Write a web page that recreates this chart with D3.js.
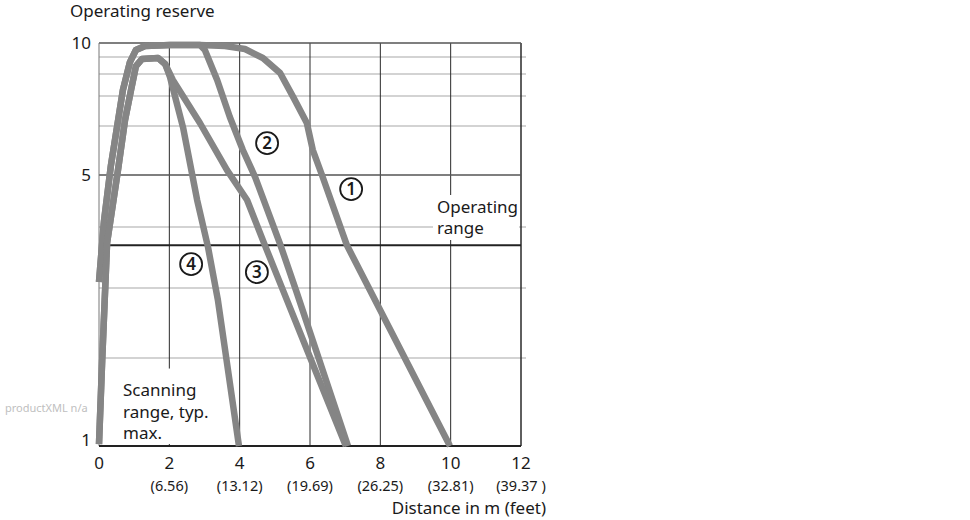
<!DOCTYPE html>
<html lang="en">
<head>
<meta charset="UTF-8">
<script src="https://d3js.org/d3.v7.min.js"></script>
<title>Operating reserve</title>
<style>
  body { margin: 0; background: #fff; }
  text { font-family: "Noto Sans", "Open Sans", sans-serif; fill: #1a1a1a; }
</style>
</head>
<body>
<div id="chart"></div>
<script>

// tick labels
var xTicks = [0, 2, 4, 6, 8, 10, 12];
var feetLabels = ["", "(6.56)", "(13.12)", "(19.69)", "(26.25)", "(32.81)", "(39.37 )"];
var yTicks = [1, 5, 10];
var yGridLight = [2, 3, 4, 6, 7, 8, 9];
var operatingRange = 3.7;

// curves, [distance m, operating reserve]
var curve1 = [[0,3.1],[0.14,4.1],[0.34,5.2],[0.68,7.27],[0.88,8.7],[1.05,9.5],[1.31,9.79],[2.02,9.86],[2.87,9.86],
  [3.58,9.79],[4.15,9.57],[4.66,8.94],[5.15,8.06],[5.52,6.97],[5.91,6.1],[6.08,5.51],[6.34,5.0],[7.05,3.7],[9.98,1.0]];
var curve2 = [[0,3.1],[0.14,4.1],[0.34,5.2],[0.68,7.27],[0.88,8.7],[1.05,9.5],[1.31,9.79],[2.02,9.86],[2.87,9.86],
  [3.01,9.5],[3.36,7.73],[3.72,6.3],[4.09,5.51],[4.44,4.96],[5.15,3.72],[5.60,2.97],[7.08,1.0]];
var curve3 = [[0,1.02],[0.09,1.97],[0.23,3.74],[0.54,5.1],[0.74,6.2],[0.91,7.27],[1.05,8.47],[1.22,8.88],[1.68,8.94],
  [1.88,8.59],[2.10,7.73],[2.87,6.1],[3.64,5.1],[4.21,4.52],[4.69,3.74],[5.23,2.97],[6.00,2.01],[7.02,1.0]];
var curve4 = [[0,1.02],[0.09,1.97],[0.23,3.74],[0.54,5.1],[0.74,6.2],[0.91,7.27],[1.05,8.47],[1.22,8.88],[1.68,8.94],
  [1.88,8.59],[2.02,7.86],[2.39,5.97],[2.79,4.52],[3.10,3.67],[3.38,2.83],[3.98,1.0]];
var curves = [curve1, curve2, curve3, curve4];

// circled curve labels
var labelNames = ["1", "2", "3", "4"];
var labelPos = [[7.17, 4.73], [4.78, 5.65], [4.49, 3.26], [2.62, 3.39]];

var width = 970, height = 520;

var svg = d3.select("#chart")
  .append("svg")
    .attr("width", width)
    .attr("height", height);

var x = d3.scaleLinear()
  .domain([0, 12])
  .range([99, 521]);

// the printed reserve axis is not a plain log scale, so piecewise
var y = d3.scaleLinear()
  .domain([1, 2, 3, 4, 5, 6, 7, 8, 9, 10])
  .range([446, 358, 288, 227, 175, 126, 96, 74, 57, 43]);

// light horizontal grid
svg.append("g")
  .selectAll("line")
  .data(yGridLight)
  .enter()
  .append("line")
    .attr("x1", x(0))
    .attr("x2", x(12) + 5)
    .attr("y1", function(d) { return y(d); })
    .attr("y2", function(d) { return y(d); })
    .attr("stroke", "#c4c4c4")
    .attr("stroke-width", 1.5);

// vertical grid
svg.append("g")
  .selectAll("line")
  .data(xTicks.slice(1))
  .enter()
  .append("line")
    .attr("x1", function(d) { return x(d); })
    .attr("x2", function(d) { return x(d); })
    .attr("y1", y(10))
    .attr("y2", function(d) { return d == 2 ? y(1.88) : y(1); })
    .attr("stroke", "#2a2a2a")
    .attr("stroke-width", function(d) { return d == 12 ? 1.5 : 1; });

// small tick at 2 on the bottom axis
svg.append("line")
  .attr("x1", x(2)).attr("x2", x(2))
  .attr("y1", y(1)).attr("y2", y(1) - 4)
  .attr("stroke", "#2a2a2a");

// dark horizontal lines: 10, 5
svg.append("g")
  .selectAll("line")
  .data([10, 5])
  .enter()
  .append("line")
    .attr("x1", x(0))
    .attr("x2", x(12))
    .attr("y1", function(d) { return y(d); })
    .attr("y2", function(d) { return y(d); })
    .attr("stroke", "#555")
    .attr("stroke-width", 1.5);

// operating range line
svg.append("line")
  .attr("x1", x(0)).attr("x2", x(12))
  .attr("y1", y(operatingRange)).attr("y2", y(operatingRange))
  .attr("stroke", "#222")
  .attr("stroke-width", 2);

// axes lines
svg.append("line")
  .attr("x1", x(0)).attr("x2", x(0))
  .attr("y1", y(10)).attr("y2", y(1))
  .attr("stroke", "#777")
  .attr("stroke-width", 1);
svg.append("line")
  .attr("x1", x(0)).attr("x2", x(12))
  .attr("y1", y(1)).attr("y2", y(1))
  .attr("stroke", "#222")
  .attr("stroke-width", 2);

// white boxes behind the notes
svg.append("rect")
  .attr("x", 433).attr("y", 195).attr("width", 86).attr("height", 45)
  .attr("fill", "#fff");
svg.append("rect")
  .attr("x", 117).attr("y", 370).attr("width", 95).attr("height", 74)
  .attr("fill", "#fff");

// curves
var line = d3.line()
  .x(function(d) { return x(d[0]); })
  .y(function(d) { return y(d[1]); });

svg.append("g")
  .selectAll("path")
  .data(curves)
  .enter()
  .append("path")
    .attr("d", line)
    .attr("fill", "none")
    .attr("stroke", "#858585")
    .attr("stroke-width", 6.5)
    .attr("stroke-linejoin", "round");

// circled labels
var lab = svg.append("g")
  .selectAll("g")
  .data(labelNames)
  .enter()
  .append("g")
    .attr("transform", function(d, i) {
      return "translate(" + x(labelPos[i][0]) + "," + y(labelPos[i][1]) + ")";
    });
lab.append("circle")
  .attr("r", 11)
  .attr("fill", "#fff")
  .attr("stroke", "#1a1a1a")
  .attr("stroke-width", 1.8);
lab.append("text")
  .attr("text-anchor", "middle")
  .attr("dy", "0.36em")
  .style("font-size", "17px")
  .style("font-weight", "600")
  .text(function(d) { return d; });

// y tick labels
svg.append("g")
  .selectAll("text")
  .data(yTicks)
  .enter()
  .append("text")
    .attr("x", 91)
    .attr("y", function(d) { return d == 1 ? y(d) - 6 : y(d); })
    .attr("dy", "0.36em")
    .attr("text-anchor", "end")
    .style("font-size", "17px")
    .text(function(d) { return d; });

// x tick labels
svg.append("g")
  .selectAll("text")
  .data(xTicks)
  .enter()
  .append("text")
    .attr("x", function(d) { return x(d); })
    .attr("y", 469)
    .attr("text-anchor", "middle")
    .style("font-size", "17px")
    .text(function(d) { return d; });

svg.append("g")
  .selectAll("text")
  .data(feetLabels)
  .enter()
  .append("text")
    .attr("x", function(d, i) { return x(xTicks[i]); })
    .attr("y", 491)
    .attr("text-anchor", "middle")
    .style("font-size", "14.5px")
    .text(function(d) { return d; });

// axis titles
svg.append("text")
  .attr("x", 70).attr("y", 17)
  .style("font-size", "17px")
  .text("Operating reserve");

svg.append("text")
  .attr("x", 546).attr("y", 514)
  .attr("text-anchor", "end")
  .style("font-size", "17px")
  .text("Distance in m (feet)");

// notes
svg.append("text")
  .attr("x", 437).attr("y", 213)
  .style("font-size", "17px")
  .selectAll("tspan")
  .data(["Operating", "range"])
  .enter()
  .append("tspan")
    .attr("x", 437)
    .attr("dy", function(d, i) { return i == 0 ? 0 : 21; })
    .text(function(d) { return d; });

svg.append("text")
  .attr("x", 123).attr("y", 396)
  .style("font-size", "17px")
  .selectAll("tspan")
  .data(["Scanning", "range, typ.", "max."])
  .enter()
  .append("tspan")
    .attr("x", 123)
    .attr("dy", function(d, i) { return i == 0 ? 0 : 21.5; })
    .text(function(d) { return d; });

svg.append("text")
  .attr("x", 5).attr("y", 412)
  .style("font-size", "11px")
  .style("fill", "#c0c0c0")
  .text("productXML n/a");

</script>
</body>
</html>
